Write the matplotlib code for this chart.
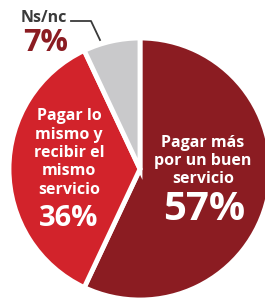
import matplotlib
matplotlib.use("Agg")
import matplotlib.pyplot as plt

categories = ["Pagar más\npor un buen\nservicio", "Pagar lo\nmismo y\nrecibir el\nmismo\nservicio", "Ns/nc"]
values = [57, 36, 7]
colors = ["#8b1c22", "#d2232b", "#c9c9cb"]

plt.rcParams['font.family'] = ['Open Sans', 'DejaVu Sans']

fig = plt.figure(figsize=(2.65, 3.0), dpi=100)
ax = fig.add_axes([0, 0, 1, 1])
wedges, _ = ax.pie(values, colors=colors, startangle=90, counterclock=False,
                   radius=1.0, wedgeprops=dict(edgecolor="white", linewidth=3.5))
R = 131.0
ax.set_xlim(-140 / R, 125 / R)
ax.set_ylim(-131 / R, 169 / R)
ax.set_aspect("equal")
ax.axis("off")

def px(x, y):
    return (x - 140) / R, (169 - y) / R

# large slice
ax.text(*px(203, 161), categories[0], ha="center", va="center", color="white",
        fontsize=11.5, fontweight="bold", linespacing=1.2)
ax.text(*px(204, 209), f"{values[0]}%", ha="center", va="center", color="white",
        fontsize=29, fontweight="bold")
# medium slice
ax.text(*px(69, 153), categories[1], ha="center", va="center", color="white",
        fontsize=11.5, fontweight="bold", linespacing=1.2)
ax.text(*px(69, 218), f"{values[1]}%", ha="center", va="center", color="white",
        fontsize=21, fontweight="bold")
# small slice label outside
ax.text(*px(21, 18), categories[2], ha="left", va="center", color="#3a3a3a",
        fontsize=11.5, fontweight="bold")
ax.text(*px(23, 43), f"{values[2]}%", ha="left", va="center", color="#8b1c22",
        fontsize=22, fontweight="bold")
xs, ys = zip(px(71, 21), px(91, 21), px(100, 40))
ax.plot(xs, ys, color="#3a3a3a", lw=1.3)

fig.savefig("out.png", dpi=100)
